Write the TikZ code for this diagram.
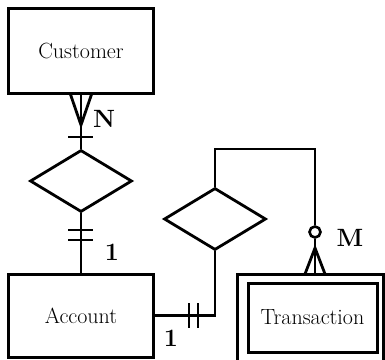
\documentclass[tikz,border=0pt]{standalone}
\usetikzlibrary{shapes.geometric}
\tikzset{
  entity/.style={draw, line width=3pt, rectangle, inner sep=0pt,
    font=\fontsize{22}{24}\selectfont},
  relship/.style={draw, line width=2.8pt, diamond, inner sep=0pt,
    minimum width=102pt, minimum height=62pt},
  card/.style={font=\fontsize{25}{27}\selectfont\bfseries, inner sep=0pt},
  link/.style={line width=2.8pt}
}
\begin{document}
\begin{tikzpicture}[x=1pt,y=-1pt]
    \useasboundingbox (0,0) rectangle (385,359);
    % entities
    \node[entity, minimum width=145pt, minimum height=85pt] (cust) at (81,50.5) {Customer};
    \node[entity, minimum width=145pt, minimum height=83pt] (acct) at (81,315.5) {Account};
    \node[entity, minimum width=146pt, minimum height=91pt] (transout) at (310,319.5) {};
    \node[entity, minimum width=129pt, minimum height=69pt] (trans) at (312.5,317.5) {Transaction};
    % relationships
    \node[relship] (has) at (81,181) {};
    \node[relship] (makes) at (215,219) {};
    \node[draw, circle, line width=2.6pt, minimum size=11pt, inner sep=0pt] (opt) at (315,232) {};
    % Customer -- has
    \draw[link] (cust.south) -- (has.north);
    \draw[link] (70,93) -- (81,125) -- (92,93);
    \draw[link] (68,137) -- (93,137);
    \node[card] (n) at (104,119) {N};
    % has -- Account
    \draw[link] (has.south) -- (acct.north);
    \draw[link] (68,230) -- (93,230);
    \draw[link] (68,240) -- (93,240);
    \node[card] (one1) at (112,252) {1};
    % makes -- Account
    \draw[link] (makes.south) |- (acct.east);
    \draw[link] (189,303) -- (189,328);
    \draw[link] (198,303) -- (198,328);
    \node[card] (one2) at (171,338) {1};
    % makes -- Transaction
    \draw[link] (makes.north) -- (215,149) -| (opt.north);
    \draw[link] (opt.south) -- (315,274);
    \draw[link] (305,274) -- (315,248) -- (325,274);
    \node[card] (m) at (350,238) {M};
\end{tikzpicture}
\end{document}
